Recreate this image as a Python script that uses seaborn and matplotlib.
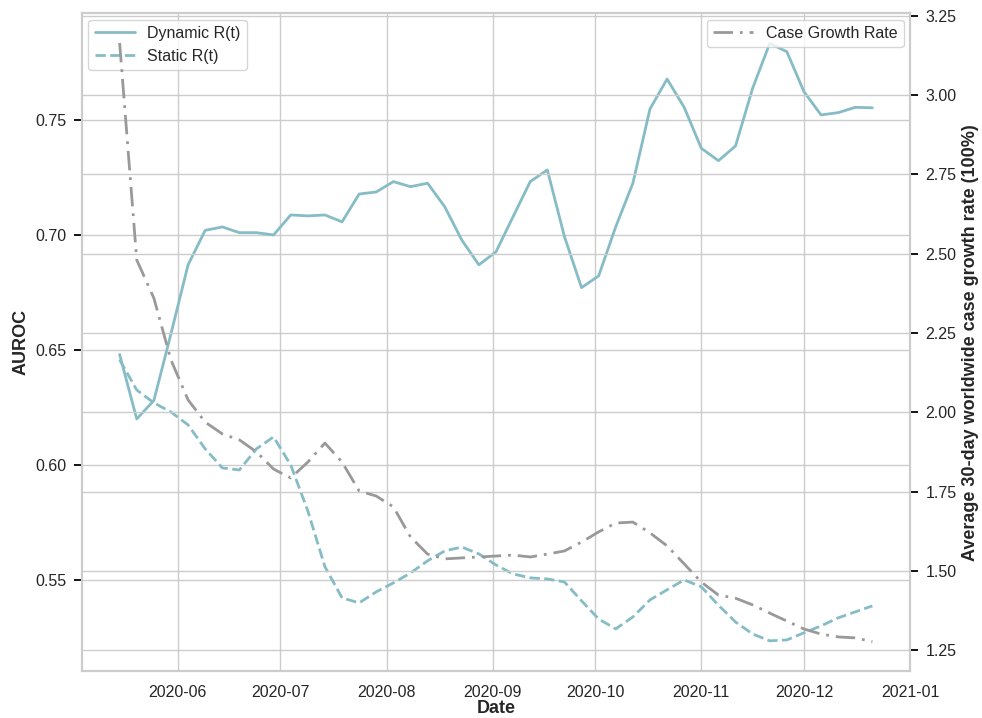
import numpy as np
import pandas as pd
import matplotlib
matplotlib.use("Agg")
import matplotlib.pyplot as plt
import matplotlib.dates as mdates
import seaborn as sns

# Evaluation dates: every 5 days from mid-May to late December 2020
dates = pd.date_range("2020-05-15", periods=45, freq="5D")

dynamic_auroc = [
    0.648, 0.620, 0.628, 0.657, 0.687, 0.702, 0.7035, 0.701, 0.701, 0.700,
    0.7087, 0.7083, 0.7087, 0.7057, 0.7178, 0.7187, 0.7232, 0.721, 0.7225, 0.7123,
    0.6978, 0.687, 0.6927, 0.708, 0.7232, 0.7283, 0.6993, 0.6771, 0.6822, 0.7036,
    0.7225, 0.7548, 0.7678, 0.7555, 0.7377, 0.7323, 0.7387, 0.7638, 0.7833, 0.7797,
    0.7623, 0.7522, 0.7532, 0.7555, 0.7553,
]

static_auroc = [
    0.6457, 0.6326, 0.627, 0.623, 0.6174, 0.607, 0.5987, 0.5978, 0.607, 0.6122,
    0.600, 0.580, 0.5557, 0.5422, 0.540, 0.5448, 0.5487, 0.553, 0.5583, 0.5626,
    0.5643, 0.5613, 0.5565, 0.5526, 0.5509, 0.5504, 0.5491, 0.5409, 0.533, 0.5287,
    0.5339, 0.5413, 0.5457, 0.550, 0.547, 0.539, 0.5317, 0.5265, 0.5235, 0.5239,
    0.527, 0.530, 0.5335, 0.5361, 0.5387,
]

case_growth = [
    3.164, 2.48, 2.36, 2.165, 2.039, 1.969, 1.932, 1.913, 1.875, 1.821,
    1.793, 1.843, 1.903, 1.843, 1.752, 1.736, 1.702, 1.607, 1.553, 1.538,
    1.541, 1.544, 1.547, 1.550, 1.544, 1.553, 1.563, 1.591, 1.623, 1.651,
    1.654, 1.620, 1.579, 1.522, 1.465, 1.424, 1.414, 1.393, 1.367, 1.342,
    1.317, 1.301, 1.292, 1.289, 1.277,
]

df = pd.DataFrame({
    "Date": dates,
    "Dynamic": dynamic_auroc,
    "Static": static_auroc,
    "Growth": case_growth,
})

sns.set_theme(style="whitegrid")
plt.rcParams["font.family"] = ["Liberation Sans", "DejaVu Sans"]

teal = "#86bcc5"
grey = "#999999"

fig, ax = plt.subplots(figsize=(9.82, 7.18), dpi=100)
fig.subplots_adjust(left=0.0835, right=0.9267, top=0.9815, bottom=0.0655)

sns.lineplot(data=df, x="Date", y="Dynamic", ax=ax, color=teal, lw=2,
             label="Dynamic R(t)")
sns.lineplot(data=df, x="Date", y="Static", ax=ax, color=teal, lw=2,
             linestyle="--", label="Static R(t)")
ax.set_ylim(0.5104, 0.7964)
ax.set_xlabel("Date", fontsize=13, fontweight="bold", labelpad=0)
ax.set_ylabel("AUROC", fontsize=13, fontweight="bold")
ax.xaxis.set_major_locator(mdates.MonthLocator())
ax.xaxis.set_major_formatter(mdates.DateFormatter("%Y-%m"))
ax.tick_params(axis="x", labelsize=11.5, length=0, pad=10)
ax.tick_params(axis="y", labelsize=11.5, left=True, length=6, width=1.3,
               color="black", pad=5)
ax.legend(loc="upper left", fontsize=11.5, frameon=True, borderaxespad=0.4,
          handlelength=2.5)

ax2 = ax.twinx()
sns.lineplot(data=df, x="Date", y="Growth", ax=ax2, color=grey, lw=2,
             linestyle=(0, (7, 2.5, 1, 2.5)), label="Case Growth Rate")
ax2.set_ylim(1.1847, 3.2575)
ax2.set_ylabel("Average 30-day worldwide case growth rate (100%)",
               fontsize=13, fontweight="bold")
ax2.set_yticks([1.25, 1.5, 1.75, 2.0, 2.25, 2.5, 2.75, 3.0, 3.25])
ax2.yaxis.set_major_formatter(matplotlib.ticker.FormatStrFormatter("%.2f"))
ax2.tick_params(axis="y", labelsize=11.5, right=True, length=6, width=1.3,
                color="black", pad=5)
ax2.legend(loc="upper right", fontsize=11.5, frameon=True, borderaxespad=0.4,
           handlelength=2.5)

for a in (ax, ax2):
    for s in a.spines.values():
        s.set_color("#cccccc")
        s.set_linewidth(1.5)

fig.savefig("out.png", dpi=100)
